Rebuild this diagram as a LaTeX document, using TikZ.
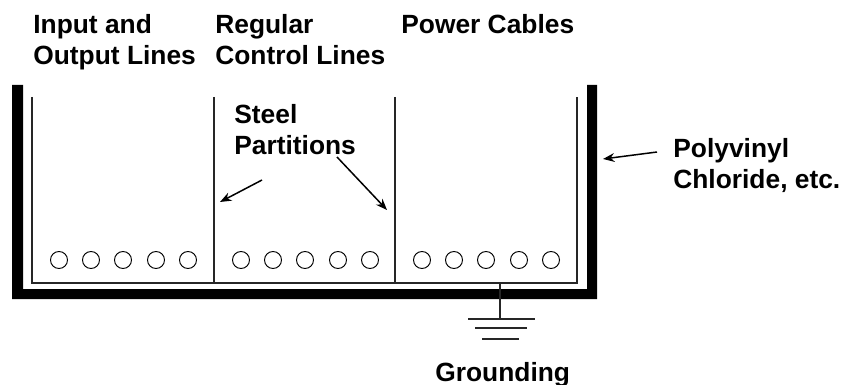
\documentclass[tikz,border=0pt]{standalone}
\usepackage{fontspec}
\setmainfont{Liberation Sans}
\usetikzlibrary{arrows.meta}
\colorlet{figA}{black}
\tikzset{
  lbl/.style={anchor=north west, inner sep=0pt, align=left, font=\fontsize{15}{17.6}\selectfont\bfseries},
  wire/.style={draw, circle, minimum size=17*0.02cm, inner sep=0pt, line width=0.55pt},
  thin line/.style={line width=0.6pt, figA!85},
}
\begin{document}
\begin{tikzpicture}[x=0.02cm, y=-0.02cm, >={Stealth[length=6.5pt, width=5pt]}]
    \useasboundingbox (0,0) rectangle (848,385);
    % outer jacket
    \fill[figA](12,85)--(23,85)--(23,289)--(587,289)--(587,85)--(597,85)--(597,299)--(12,299)--cycle;
    % tray and partitions
    \draw[thin line](32,97)--(32,283)--(577,283)--(577,97);
    \draw[thin line](214,97)--(214,283);
    \draw[thin line](395,97)--(395,283);
    \foreach \x in {59,91,123,156,188,241,273,305,338,370,422,454,486,519,551}{%
      \node[wire] (w\x) at (\x,260) {};}
    % grounding
    \coordinate (gtop) at (500,283);
    \coordinate (gnd) at (500,319);
    \draw[thin line](gtop)--(gnd);
    \draw[thin line](468,319)--(535,319);
    \draw[thin line](475,328)--(527,328);
    \draw[thin line](482,339)--(519,339);
    % labels
    \node[lbl] (io) at (33,14) {Input and\\Output Lines};
    \node[lbl] (ctrl) at (215,14) {Regular\\Control Lines};
    \node[lbl] (power) at (401,14) {Power Cables};
    \node[lbl] (steel) at (234,104) {Steel\\Partitions};
    \node[lbl] (pvc) at (673,138) {Polyvinyl\\Chloride, etc.};
    \node[lbl] (gl) at (435,362) {Grounding};
    % arrows
    \coordinate (a1) at (262,180);
    \coordinate (a2) at (220,202);
    \coordinate (a3) at (337,157);
    \coordinate (a4) at (387,210);
    \coordinate (a5) at (657,152);
    \coordinate (a6) at (603,159);
    \draw[->, line width=0.85pt](a1)--(a2);
    \draw[->, line width=0.85pt](a3)--(a4);
    \draw[->, line width=0.85pt](a5)--(a6);
\end{tikzpicture}
\end{document}
